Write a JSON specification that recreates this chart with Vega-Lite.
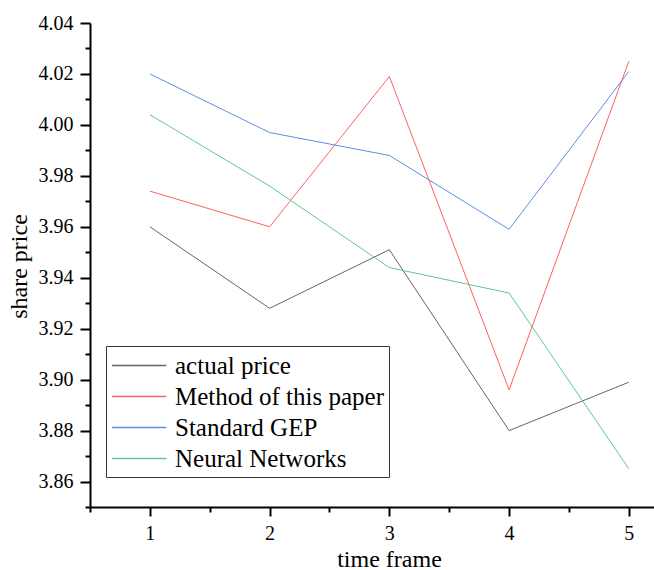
{
  "$schema": "https://vega.github.io/schema/vega-lite/v6.json",
  "width": 564,
  "height": 484,
  "autosize": {"type": "none"},
  "padding": {"left": 90, "top": 23, "right": 0, "bottom": 63},
  "background": "white",
  "config": {
    "view": {"stroke": null},
    "font": "Liberation Serif",
    "axis": {
      "grid": false,
      "domainColor": "#000000",
      "domainWidth": 2,
      "tickColor": "#000000",
      "tickWidth": 2,
      "labelColor": "#000000",
      "labelFont": "Liberation Serif",
      "labelFontSize": 20,
      "titleColor": "#000000",
      "titleFont": "Liberation Serif",
      "titleFontSize": 24,
      "titleFontWeight": "normal"
    }
  },
  "data": {
    "values": [
      {"t": 1, "series": "actual price", "price": 3.960},
      {"t": 2, "series": "actual price", "price": 3.928},
      {"t": 3, "series": "actual price", "price": 3.951},
      {"t": 4, "series": "actual price", "price": 3.880},
      {"t": 5, "series": "actual price", "price": 3.899},
      {"t": 1, "series": "Method of this paper", "price": 3.974},
      {"t": 2, "series": "Method of this paper", "price": 3.960},
      {"t": 3, "series": "Method of this paper", "price": 4.019},
      {"t": 4, "series": "Method of this paper", "price": 3.896},
      {"t": 5, "series": "Method of this paper", "price": 4.025},
      {"t": 1, "series": "Standard GEP", "price": 4.020},
      {"t": 2, "series": "Standard GEP", "price": 3.997},
      {"t": 3, "series": "Standard GEP", "price": 3.988},
      {"t": 4, "series": "Standard GEP", "price": 3.959},
      {"t": 5, "series": "Standard GEP", "price": 4.021},
      {"t": 1, "series": "Neural Networks", "price": 4.004},
      {"t": 2, "series": "Neural Networks", "price": 3.976},
      {"t": 3, "series": "Neural Networks", "price": 3.944},
      {"t": 4, "series": "Neural Networks", "price": 3.934},
      {"t": 5, "series": "Neural Networks", "price": 3.865}
    ]
  },
  "mark": {"type": "line", "strokeWidth": 1, "clip": true},
  "encoding": {
    "x": {
      "field": "t",
      "type": "quantitative",
      "scale": {"domain": [0.5, 5.21], "nice": false, "zero": false},
      "axis": {
        "values": [0.5, 1, 1.5, 2, 2.5, 3, 3.5, 4, 4.5, 5],
        "format": ".1~f",
        "labelExpr": "datum.value % 1 === 0 ? datum.label : ''",
        "labelFont": "Liberation Serif",
        "labelFontSize": 20,
        "tickSize": {"condition": {"test": "datum.value % 1 === 0", "value": 9}, "value": 5},
        "labelPadding": 7,
        "labelFlush": false,
        "labelOverlap": false,
        "title": "time frame",
        "titleX": 299,
        "titleY": 59,
        "titleAlign": "center",
        "titleBaseline": "alphabetic"
      }
    },
    "y": {
      "field": "price",
      "type": "quantitative",
      "scale": {"domain": [3.85, 4.04], "nice": false, "zero": false},
      "axis": {
        "values": [3.85, 3.86, 3.87, 3.88, 3.89, 3.9, 3.91, 3.92, 3.93, 3.94, 3.95, 3.96, 3.97, 3.98, 3.99, 4.0, 4.01, 4.02, 4.03, 4.04],
        "format": ".2f",
        "labelExpr": "round(datum.value * 100) % 2 === 0 ? datum.label : ''",
        "labelFont": "Liberation Serif",
        "labelFontSize": 20,
        "tickSize": {"condition": {"test": "round(datum.value * 100) % 2 === 0", "value": 10}, "value": 5},
        "labelPadding": 7,
        "labelFlush": false,
        "labelOverlap": false,
        "title": "share price",
        "titleAngle": 270,
        "titleX": -64,
        "titleY": 243,
        "titleAlign": "center",
        "titleBaseline": "alphabetic"
      }
    },
    "color": {
      "field": "series",
      "type": "nominal",
      "scale": {
        "domain": ["actual price", "Method of this paper", "Standard GEP", "Neural Networks"],
        "range": ["#666666", "#ff6060", "#5b8fe8", "#60c890"]
      },
      "legend": {
        "orient": "none",
        "legendX": 16,
        "legendY": 323,
        "title": null,
        "symbolType": "M-1,0H3",
        "symbolSize": 740,
        "symbolStrokeWidth": 1.5,
        "labelFont": "Liberation Serif",
        "labelFontSize": 25,
        "labelColor": "#000000",
        "labelLimit": 400,
        "labelOffset": 35,
        "rowPadding": 3,
        "padding": 5,
        "strokeColor": "#333333",
        "fillColor": "#ffffff"
      }
    }
  }
}
